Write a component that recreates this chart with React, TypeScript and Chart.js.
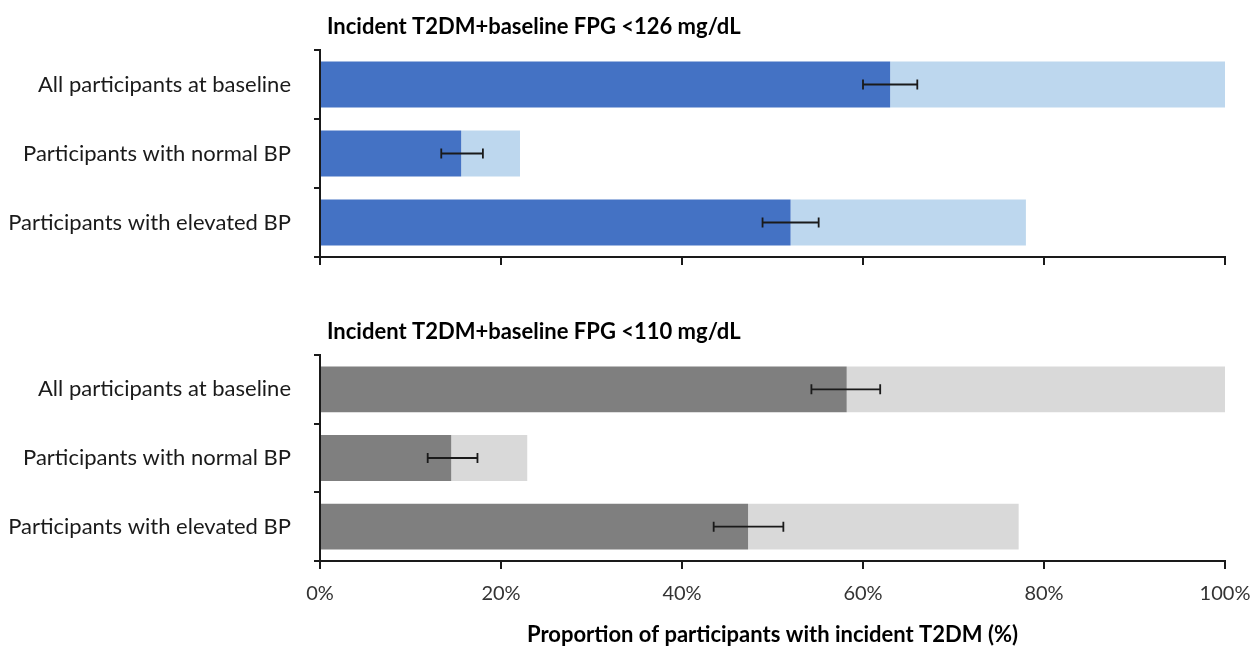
import React, { useEffect, useRef } from "react";
import { Chart, registerables } from "chart.js";

Chart.register(...registerables);

const categories = [
  "All participants at baseline",
  "Participants with normal BP",
  "Participants with elevated BP",
];
const xTicks = [0, 20, 40, 60, 80, 100];

const titleTop = "Incident T2DM+baseline FPG <126 mg/dL";
const darkTop = [63.0, 15.6, 52.0];
const totalTop = [100, 22.1, 78.0];
const errLoTop = [60.0, 13.4, 48.9];
const errHiTop = [66.0, 18.0, 55.1];

const titleBottom = "Incident T2DM+baseline FPG <110 mg/dL";
const darkBottom = [58.2, 14.5, 47.3];
const totalBottom = [100, 22.9, 77.2];
const errLoBottom = [54.3, 11.9, 43.5];
const errHiBottom = [61.9, 17.4, 51.2];

const xAxisTitle = "Proportion of participants with incident T2DM (%)";

const FONT = "Lato, 'Open Sans', sans-serif";

type Panel = {
  title: string;
  dark: number[];
  total: number[];
  lo: number[];
  hi: number[];
  darkColor: string;
  lightColor: string;
  showX: boolean;
  top: number;
  height: number;
  areaTop: number;
  xHeight: number;
};

const panels: Panel[] = [
  {
    title: titleTop,
    dark: darkTop,
    total: totalTop,
    lo: errLoTop,
    hi: errHiTop,
    darkColor: "#4472C4",
    lightColor: "#BDD7EE",
    showX: false,
    top: 0,
    height: 300,
    areaTop: 50,
    xHeight: 43,
  },
  {
    title: titleBottom,
    dark: darkBottom,
    total: totalBottom,
    lo: errLoBottom,
    hi: errHiBottom,
    darkColor: "#7F7F7F",
    lightColor: "#D9D9D9",
    showX: true,
    top: 300,
    height: 346,
    areaTop: 55,
    xHeight: 85,
  },
];

function PanelChart({ p }: { p: Panel }) {
  const ref = useRef<HTMLCanvasElement | null>(null);
  useEffect(() => {
    if (!ref.current) return;
    const errPlugin = {
      id: "errbars",
      afterDatasetsDraw(chart: any) {
        const ctx = chart.ctx;
        const xs = chart.scales.x;
        const meta = chart.getDatasetMeta(0);
        ctx.save();
        ctx.strokeStyle = "#1a1a1a";
        ctx.lineWidth = 1.8;
        p.lo.forEach((lo, i) => {
          const y = meta.data[i].y;
          const x1 = xs.getPixelForValue(lo);
          const x2 = xs.getPixelForValue(p.hi[i]);
          ctx.beginPath();
          ctx.moveTo(x1, y);
          ctx.lineTo(x2, y);
          ctx.moveTo(x1, y - 5);
          ctx.lineTo(x1, y + 5);
          ctx.moveTo(x2, y - 5);
          ctx.lineTo(x2, y + 5);
          ctx.stroke();
        });
        ctx.fillStyle = "#000";
        ctx.font = `bold 22px ${FONT}`;
        ctx.textAlign = "left";
        ctx.textBaseline = "middle";
        ctx.fillText(p.title, chart.chartArea.left + 7, p.areaTop - 23);
        ctx.restore();
      },
    };
    const chart = new Chart(ref.current, {
      type: "bar",
      data: {
        labels: categories,
        datasets: [
          {
            data: p.dark,
            backgroundColor: p.darkColor,
            categoryPercentage: 1,
            barPercentage: 0.667,
          },
          {
            data: p.total.map((t, i) => t - p.dark[i]),
            backgroundColor: p.lightColor,
            categoryPercentage: 1,
            barPercentage: 0.667,
          },
        ],
      },
      options: {
        animation: false,
        responsive: false,
        indexAxis: "y",
        layout: { padding: { top: p.areaTop, right: 28, left: 0, bottom: 0 } },
        plugins: {
          legend: { display: false },
          tooltip: { enabled: false },
          title: { display: false },
        },
        scales: {
          x: {
            stacked: true,
            min: 0,
            max: 100,
            afterBuildTicks(scale: any) {
              scale.ticks = xTicks.map((v) => ({ value: v }));
            },
            afterFit(scale: any) {
              scale.height = p.xHeight;
              scale.paddingLeft = 0;
              scale.paddingRight = 0;
            },
            border: { display: true, color: "#1a1a1a", width: 2 },
            grid: {
              drawOnChartArea: false,
              drawTicks: true,
              tickLength: 8,
              color: "#1a1a1a",
              lineWidth: 2,
            },
            ticks: {
              display: p.showX,
              callback: (v: any) => `${v}%`,
              font: { family: FONT, size: 20 },
              color: "#333",
              padding: 13,
              maxRotation: 0,
            },
            title: {
              display: p.showX,
              text: xAxisTitle,
              font: { family: FONT, size: 22, weight: "bold" },
              color: "#000",
              padding: { top: 0, bottom: -2 },
            },
          },
          y: {
            stacked: true,
            afterFit(scale: any) {
              scale.width = 320;
            },
            border: { display: true, color: "#1a1a1a", width: 2 },
            grid: {
              offset: true,
              drawOnChartArea: false,
              drawTicks: true,
              tickLength: 6,
              color: "#1a1a1a",
              lineWidth: 2,
            },
            ticks: {
              font: { family: FONT, size: 22 },
              color: "#1a1a1a",
              padding: 23,
            },
          },
        },
      },
      plugins: [errPlugin],
    } as any);
    return () => chart.destroy();
  }, [p]);
  return (
    <canvas
      ref={ref}
      width={1253}
      height={p.height}
      style={{ position: "absolute", left: 0, top: p.top, width: 1253, height: p.height }}
    />
  );
}

export default function App() {
  return (
    <div style={{ position: "absolute", left: 0, top: 0, width: 1253, height: 646, background: "#fff" }}>
      {panels.map((p, i) => (
        <PanelChart key={i} p={p} />
      ))}
    </div>
  );
}
